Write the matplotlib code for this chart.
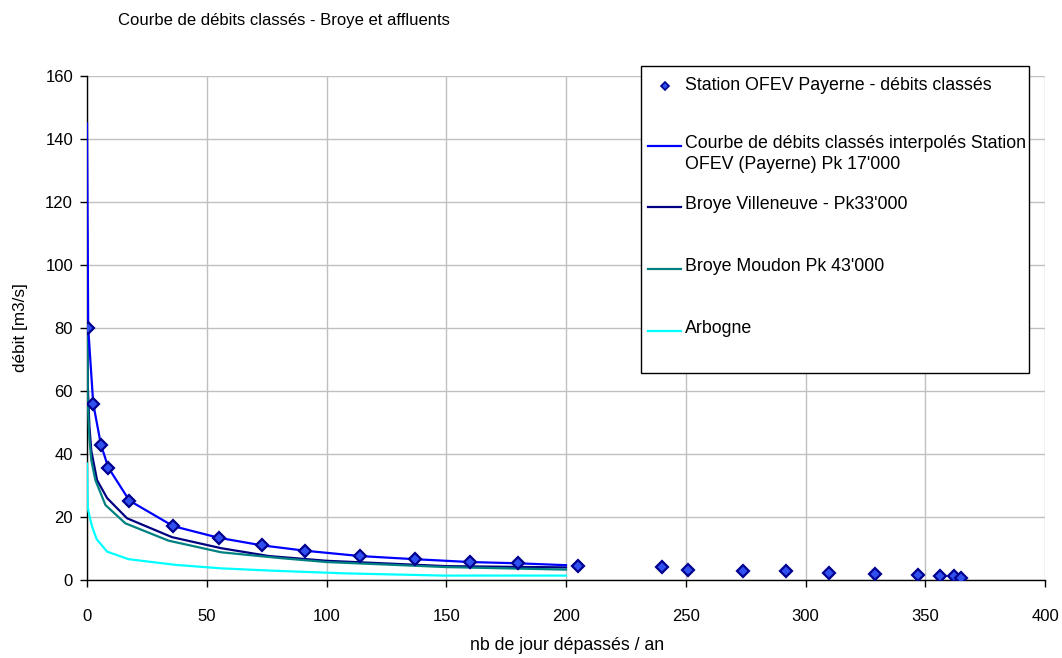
import matplotlib
matplotlib.use("Agg")
import matplotlib.pyplot as plt
from matplotlib.lines import Line2D
from matplotlib.patches import Rectangle

plt.rcParams['font.family'] = ['Liberation Sans Narrow', 'Liberation Sans', 'DejaVu Sans']

# Station OFEV Payerne - measured duration points (days exceeded / year, m3/s)
station_days = [0.5, 2.6, 5.8, 8.9, 17.7, 36, 55, 73, 91, 114, 137, 160, 180,
                205, 240, 251, 274, 292, 310, 329, 347, 356, 362, 365]
station_flow = [80, 56, 43, 35.7, 25.2, 17.1, 13.4, 11.0, 9.3, 7.6, 6.6, 5.7, 5.3,
                4.4, 4.0, 3.3, 2.9, 2.9, 2.3, 2.0, 1.6, 1.2, 1.2, 0.7]

# Interpolated duration curve at Payerne (Pk 17'000)
payerne_days = [0, 0.5, 2.6, 5.8, 8.9, 17.7, 36, 55, 73, 91, 114, 137, 160, 180, 200]
payerne_flow = [145, 80, 56, 43, 35.7, 25.2, 17.1, 13.4, 11.0, 9.3, 7.6, 6.6, 5.7, 5.3, 4.7]

# Broye Villeneuve - Pk 33'000
villeneuve_days = [0, 0.3, 1, 1.8, 4.2, 8.4, 16.7, 35.5, 56, 76, 100, 150, 200]
villeneuve_flow = [112, 62, 49, 41, 31.7, 26, 19.6, 13.6, 10.1, 7.6, 6.1, 4.4, 4.0]

# Broye Moudon - Pk 43'000
moudon_days = [0, 0.3, 1, 1.8, 3.5, 7.7, 16, 34, 56, 80, 100, 150, 200]
moudon_flow = [101, 57, 45, 38, 31.7, 23.8, 18, 12.5, 8.8, 7.0, 5.7, 4.1, 3.3]

# Arbogne
arbogne_days = [0, 0.3, 1, 2.1, 4, 8.4, 17.4, 37, 56, 76, 108, 149, 200]
arbogne_flow = [37, 23, 20.5, 17, 13, 9.0, 6.6, 4.8, 3.7, 3.0, 2.1, 1.4, 1.4]

legend_labels = [
    "Station OFEV Payerne - débits classés",
    "Courbe de débits classés interpolés Station\nOFEV (Payerne) Pk 17'000",
    "Broye Villeneuve - Pk33'000",
    "Broye Moudon Pk 43'000",
    "Arbogne",
]

x_ticks = [0, 50, 100, 150, 200, 250, 300, 350, 400]
y_ticks = [0, 20, 40, 60, 80, 100, 120, 140, 160]

W, H = 1062, 658
fig = plt.figure(figsize=(W / 100, H / 100), dpi=100)
fig.patch.set_facecolor("white")

ax = fig.add_axes([87 / W, 1 - 580 / H, (1045 - 87) / W, (580 - 76) / H])

c_blue, c_navy, c_teal, c_cyan = "#0000ff", "#000080", "#008080", "#00ffff"
lw = 1.6

ax.plot(arbogne_days, arbogne_flow, color=c_cyan, lw=lw, zorder=3)
ax.plot(moudon_days, moudon_flow, color=c_teal, lw=lw, zorder=4)
ax.plot(villeneuve_days, villeneuve_flow, color=c_navy, lw=lw, zorder=3.5)
ax.plot(payerne_days, payerne_flow, color=c_blue, lw=lw, zorder=5)
ax.plot(station_days, station_flow, linestyle="none", marker="D", markersize=6,
        markerfacecolor="#3050f0", markeredgecolor="#000090", markeredgewidth=1.6,
        zorder=6)

ax.set_xlim(0, 400)
ax.set_ylim(0, 160)
ax.set_xticks(x_ticks)
ax.set_yticks(y_ticks)
ax.grid(True, color="#c0c0c0", lw=1.0)
ax.set_axisbelow(True)
for side in ("top", "right"):
    ax.spines[side].set_visible(False)
for side in ("left", "bottom"):
    ax.spines[side].set_color("black")
    ax.spines[side].set_linewidth(1.0)
ax.tick_params(direction="out", length=5, width=1, color="black",
               labelsize=12, pad=5)
ax.tick_params(axis="x", pad=16)

fig.text(567 / W, 1 - 646 / H, "nb de jour dépassés / an", ha="center", va="center",
         fontsize=12.8)
fig.text(21 / W, 1 - 328 / H, "débit [m3/s]", ha="center", va="center",
         rotation=90, fontsize=12.3)
fig.text(118 / W, 1 - 21 / H, "Courbe de débits classés - Broye et affluents",
         ha="left", va="center", fontsize=12)

# Legend panel, laid out in pixel units
lg = fig.add_axes([0, 0, 1, 1], zorder=10)
lg.set_xlim(0, W)
lg.set_ylim(H, 0)
lg.axis("off")
lg.add_patch(Rectangle((641, 66), 388, 307, facecolor="white", edgecolor="black", lw=1.0))
lg.add_line(Line2D([665], [86], marker="D", markersize=4, markerfacecolor="#3050f0",
                   markeredgecolor="#000090", markeredgewidth=1.2, linestyle="none"))
lg.text(685, 86, legend_labels[0], ha="left", va="center", fontsize=12.8)
entries = [(146, c_blue, legend_labels[1]), (207, c_navy, legend_labels[2]),
           (269, c_teal, legend_labels[3]), (331, c_cyan, legend_labels[4])]
for y, col, lab in entries:
    lg.add_line(Line2D([648, 681], [y, y], color=col, lw=lw))
    lg.text(685, y - 11, lab, ha="left", va="top", fontsize=12.8, linespacing=1.3)

fig.savefig("out.png", dpi=100, facecolor="white")
